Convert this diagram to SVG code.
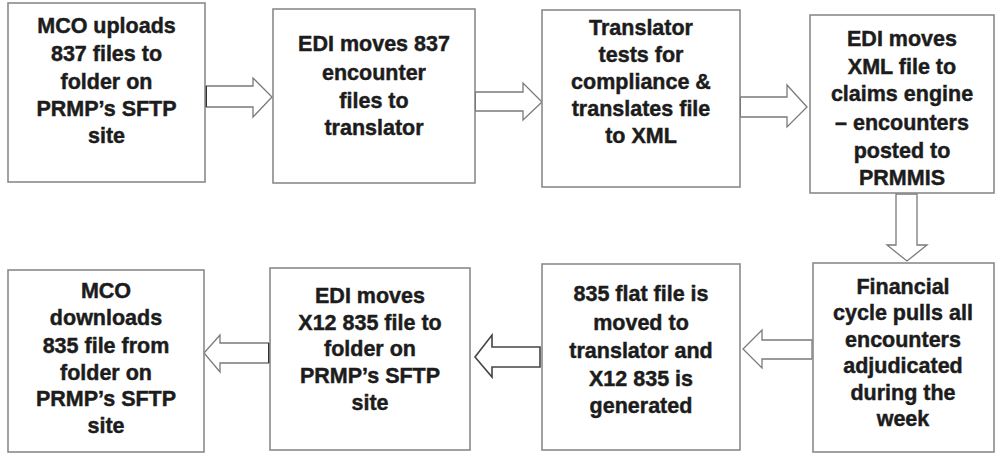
<svg xmlns="http://www.w3.org/2000/svg" width="998" height="454" viewBox="0 0 998 454">
<style>
.box{fill:#fff;stroke:#8a8a8a;stroke-width:1.6}
.t{font-family:"Liberation Sans",Arial,sans-serif;font-weight:bold;font-size:21.5px;fill:#1c1c1c;stroke:#1c1c1c;stroke-width:0.45;text-anchor:middle}
.arr{fill:#fff;stroke:#7a7a7a;stroke-width:1.3;stroke-linejoin:miter}
.arrd{fill:#fff;stroke:#444;stroke-width:1.6;stroke-linejoin:miter}
</style>
<rect width="998" height="454" fill="#fff"/>
<g id="connectors">
<polygon class="arr" points="206,86 253,86 253,78 272,97 253,117 253,107 206,107"/>
<line x1="206" y1="86" x2="206" y2="107" stroke="#333" stroke-width="2"/>
<polygon class="arr" points="475,92 523,92 523,83 542,102 523,120 523,111 475,111"/>
<line x1="475" y1="92" x2="475" y2="111" stroke="#333" stroke-width="2"/>
<polygon class="arr" points="740,97 787,97 787,85 807,107 787,127 787,117 740,117"/>
<line x1="740" y1="97" x2="740" y2="117" stroke="#333" stroke-width="2"/>
<polygon class="arr" points="896,194 917,194 917,245 927,245 907,261 887,245 896,245"/>
<polygon class="arr" points="812,340 762,340 762,330 743,349 762,368 762,359 812,359"/>
<polygon class="arrd" points="540,347 492,347 492,335 475,357 492,377 492,367 540,367"/>
<polygon class="arr" points="269,343 220,343 220,335 204,353 220,372 220,363 269,363"/>
<line x1="269" y1="343" x2="269" y2="363" stroke="#333" stroke-width="2"/>
</g>
<g id="n1">
<rect class="box" x="8" y="3" width="197" height="179"/>
<text class="t"><tspan x="106.5" y="33">MCO uploads</tspan><tspan x="106.5" y="61">837 files to</tspan><tspan x="106.5" y="89">folder on</tspan><tspan x="106.5" y="116">PRMP’s SFTP</tspan><tspan x="106.5" y="143">site</tspan></text>
</g>
<g id="n2">
<rect class="box" x="273" y="9" width="202" height="174"/>
<text class="t"><tspan x="374" y="51">EDI moves 837</tspan><tspan x="374" y="80">encounter</tspan><tspan x="374" y="108">files to</tspan><tspan x="374" y="135">translator</tspan></text>
</g>
<g id="n3">
<rect class="box" x="542" y="10" width="198" height="177"/>
<text class="t"><tspan x="641" y="35">Translator</tspan><tspan x="641" y="62">tests for</tspan><tspan x="641" y="89">compliance &amp;</tspan><tspan x="641" y="116">translates file</tspan><tspan x="641" y="143">to XML</tspan></text>
</g>
<g id="n4">
<rect class="box" x="810" y="15" width="184" height="178"/>
<text class="t"><tspan x="902" y="46">EDI moves</tspan><tspan x="902" y="74">XML file to</tspan><tspan x="902" y="101">claims engine</tspan><tspan x="902" y="130">– encounters</tspan><tspan x="902" y="158">posted to</tspan><tspan x="902" y="185">PRMMIS</tspan></text>
</g>
<g id="n5">
<rect class="box" x="813" y="263" width="181" height="189"/>
<text class="t"><tspan x="903" y="294">Financial</tspan><tspan x="903" y="320">cycle pulls all</tspan><tspan x="903" y="347">encounters</tspan><tspan x="903" y="373">adjudicated</tspan><tspan x="903" y="400">during the</tspan><tspan x="903" y="426">week</tspan></text>
</g>
<g id="n6">
<rect class="box" x="542" y="264" width="198" height="186"/>
<text class="t"><tspan x="641" y="301">835 flat file is</tspan><tspan x="641" y="330">moved to</tspan><tspan x="641" y="358">translator and</tspan><tspan x="641" y="386">X12 835 is</tspan><tspan x="641" y="413">generated</tspan></text>
</g>
<g id="n7">
<rect class="box" x="270" y="268" width="200" height="182"/>
<text class="t"><tspan x="370" y="303">EDI moves</tspan><tspan x="370" y="330">X12 835 file to</tspan><tspan x="370" y="356">folder on</tspan><tspan x="370" y="383">PRMP’s SFTP</tspan><tspan x="370" y="410">site</tspan></text>
</g>
<g id="n8">
<rect class="box" x="8" y="270" width="196" height="182"/>
<text class="t"><tspan x="106" y="298">MCO</tspan><tspan x="106" y="325">downloads</tspan><tspan x="106" y="353">835 file from</tspan><tspan x="106" y="380">folder on</tspan><tspan x="106" y="406">PRMP’s SFTP</tspan><tspan x="106" y="433">site</tspan></text>
</g>
</svg>
